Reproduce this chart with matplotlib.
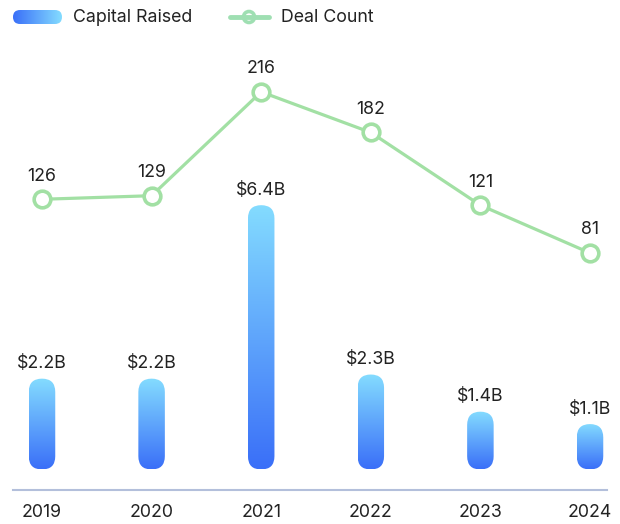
import numpy as np
import matplotlib
matplotlib.use("Agg")
import matplotlib.pyplot as plt
from matplotlib.patches import FancyBboxPatch, Circle
from matplotlib.colors import LinearSegmentedColormap

years = ["2019", "2020", "2021", "2022", "2023", "2024"]
capital = [2.2, 2.2, 6.4, 2.3, 1.4, 1.1]
capital_labels = ["$2.2B", "$2.2B", "$6.4B", "$2.3B", "$1.4B", "$1.1B"]
deals = [126, 129, 216, 182, 121, 81]

plt.rcParams['font.family'] = ['Inter', 'DejaVu Sans']
TXT = "#222222"
GREEN = "#a2e0a4"
TOP_C = "#84dcff"
BOT_C = "#3a6ff8"
FS = 12.8
cmap = LinearSegmentedColormap.from_list("g", [BOT_C, TOP_C])

W, H = 620, 524
fig = plt.figure(figsize=(W / 100, H / 100), dpi=100)
ax_l, ax_b, ax_w, ax_h = 13, 34, 594, 450
ax = fig.add_axes([ax_l / W, ax_b / H, ax_w / W, ax_h / H])

x = np.arange(len(years))
px_per_x = 109.6
xmin = -29 / px_per_x
px_per_y = 41.3
ymin = -20.5 / px_per_y

bw = 26.5 / px_per_x
aspect = px_per_x / px_per_y
grad = np.linspace(0, 1, 256).reshape(-1, 1)
for xi, v, lab in zip(x, capital, capital_labels):
    patch = FancyBboxPatch((xi - bw / 2, 0), bw, v,
                           boxstyle=f"round,pad=0,rounding_size={bw/2}",
                           mutation_aspect=aspect, linewidth=0,
                           facecolor="none", edgecolor="none")
    ax.add_patch(patch)
    im = ax.imshow(grad, cmap=cmap, origin="lower", aspect="auto",
                   extent=(xi - bw / 2, xi + bw / 2, 0, v), zorder=2)
    im.set_clip_path(patch)
    ax.annotate(lab, (xi, v), xytext=(0, 4.5), textcoords="offset points",
                ha="center", va="bottom", fontsize=FS, color=TXT)

ax.set_xlim(xmin, xmin + ax_w / px_per_x)
ax.set_ylim(ymin, ymin + ax_h / px_per_y)
ax.set_xticks(x)
ax.set_xticklabels(years, fontsize=FS, color=TXT)
ax.tick_params(axis="x", length=0, pad=10)
ax.set_yticks([])
for s in ["top", "left", "right"]:
    ax.spines[s].set_visible(False)
ax.spines["bottom"].set_color("#b3bfdb")
ax.spines["bottom"].set_linewidth(1.5)

ax2 = ax.twinx()
py2 = 1.193
y2min = -140.4 / py2
ax2.set_ylim(y2min, y2min + ax_h / py2)
ax2.plot(x, deals, color=GREEN, lw=2.3, marker="o", ms=12,
         markerfacecolor="white", markeredgecolor=GREEN, mew=2.6, zorder=5,
         solid_capstyle="round")
for xi, d in zip(x, deals):
    ax2.annotate(str(d), (xi, d), xytext=(0, 10.5), textcoords="offset points",
                 ha="center", va="bottom", fontsize=FS, color=TXT)
ax2.set_yticks([])
for s in ["top", "left", "right", "bottom"]:
    ax2.spines[s].set_visible(False)

# legend
lg = fig.add_axes([0, 0, 1, 1], zorder=10)
lg.set_xlim(0, W)
lg.set_ylim(H, 0)
lg.axis("off")
lg.patch.set_alpha(0)
lp = FancyBboxPatch((13, 10), 49, 14, boxstyle="round,pad=0,rounding_size=7",
                    facecolor="none", edgecolor="none")
lg.add_patch(lp)
gimg = lg.imshow(np.linspace(0, 1, 256).reshape(1, -1), cmap=cmap,
                 aspect="auto", extent=(13, 62, 24, 10))
gimg.set_clip_path(lp)
lg.text(73, 18, "Capital Raised", fontsize=FS, color=TXT, va="center", ha="left")
lg.plot([230, 269], [17, 17], color="#9fdfb2", lw=3.5, solid_capstyle="round")
lg.add_patch(Circle((249, 17), 5.5, facecolor="white", edgecolor="#9fdfb2", lw=2.6))
lg.text(281, 18, "Deal Count", fontsize=FS, color=TXT, va="center", ha="left")

fig.savefig("out.png", dpi=100)
